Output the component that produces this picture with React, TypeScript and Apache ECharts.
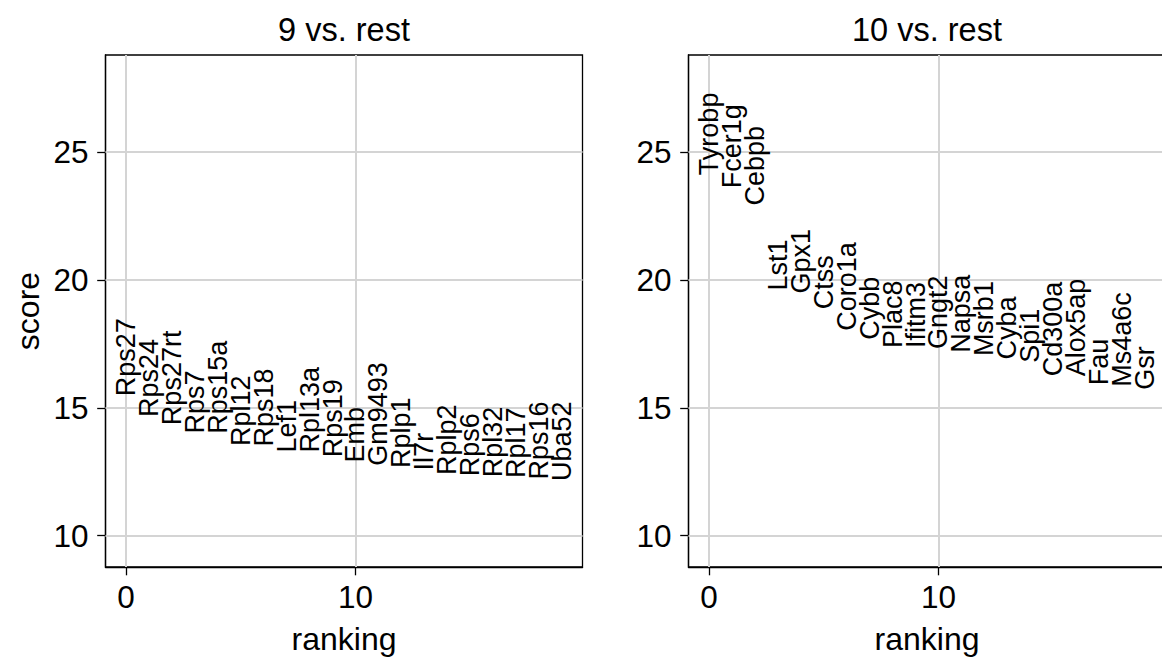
import React, { useEffect, useRef } from "react";
import * as echarts from "echarts";

const FONT = "'Liberation Sans', Arial, Helvetica, sans-serif";

const genes9 = [
  "Rps27", "Rps24", "Rps27rt", "Rps7", "Rps15a", "Rpl12", "Rps18", "Lef1", "Rpl13a", "Rps19",
  "Emb", "Gm9493", "Rplp1", "Il7r", "Rplp2", "Rps6", "Rpl32", "Rpl17", "Rps16", "Uba52",
];
const scores9 = [
  15.45, 14.64, 14.32, 13.99, 13.98, 13.5, 13.48, 13.25, 13.25, 13.06,
  12.86, 12.73, 12.64, 12.55, 12.37, 12.32, 12.28, 12.25, 12.19, 12.13,
];
const genes10 = [
  "Tyrobp", "Fcer1g", "Cebpb", "Lst1", "Gpx1", "Ctss", "Coro1a", "Cybb", "Plac8", "Ifitm3",
  "Gngt2", "Napsa", "Msrb1", "Cyba", "Spi1", "Cd300a", "Alox5ap", "Fau", "Ms4a6c", "Gsr",
];
const scores10 = [
  24.1, 23.59, 22.91, 19.59, 19.47, 18.85, 18.01, 17.66, 17.34, 17.34,
  17.3, 17.15, 17.02, 16.89, 16.76, 16.23, 16.23, 15.88, 15.82, 15.7,
];
const panelTitles = ["9 vs. rest", "10 vs. rest"];
const xTicks = [0, 10];
const yTicks = [10, 15, 20, 25];
const xRange = [-0.9, 19.9];
const yRange = [8.77, 28.8];

const GRID_LEFTS = [105.5, 688.5];
const GRID_W = 477;
const GRID_TOP = 55;
const GRID_H = 518.3;

export default function App() {
  const ref = useRef<HTMLDivElement>(null);
  useEffect(() => {
    if (!ref.current) return;
    const chart = echarts.init(ref.current, undefined, { renderer: "svg" });
    const panels = [
      { genes: genes9, scores: scores9 },
      { genes: genes10, scores: scores10 },
    ];
    const grids = GRID_LEFTS.map((l) => ({
      left: l,
      top: GRID_TOP,
      width: GRID_W,
      height: GRID_H,
      show: true,
      borderColor: "#000",
      borderWidth: 1.3,
      backgroundColor: "#fff",
      containLabel: false,
    }));
    const xAxes = GRID_LEFTS.map((_, i) => ({
      type: "value",
      gridIndex: i,
      min: xRange[0],
      max: xRange[1],
      name: "ranking",
      nameLocation: "middle",
      nameGap: 56,
      nameTextStyle: { fontSize: 32, fontFamily: FONT, color: "#000" },
      axisLine: { show: true, onZero: false, lineStyle: { color: "#000", width: 1.3 } },
      axisTick: { show: true, length: 8.3, customValues: xTicks, lineStyle: { color: "#000", width: 1.3 } },
      axisLabel: { show: true, customValues: xTicks, margin: 14, fontSize: 31.5, fontFamily: FONT, color: "#000" },
      splitLine: { show: false },
    }));
    const yAxes = GRID_LEFTS.map((_, i) => ({
      type: "value",
      gridIndex: i,
      min: yRange[0],
      max: yRange[1],
      name: i === 0 ? "score" : "",
      nameLocation: "middle",
      nameGap: 62,
      nameTextStyle: { fontSize: 32, fontFamily: FONT, color: "#000" },
      axisLine: { show: true, onZero: false, lineStyle: { color: "#000", width: 1.3 } },
      axisTick: { show: true, length: 8.3, customValues: yTicks, lineStyle: { color: "#000", width: 1.3 } },
      axisLabel: { show: true, customValues: yTicks, margin: 17, fontSize: 31.5, fontFamily: FONT, color: "#000" },
      splitLine: { show: false },
    }));
    const gridSeries = GRID_LEFTS.map((_, i) => ({
      type: "line",
      xAxisIndex: i,
      yAxisIndex: i,
      data: [],
      z: 1,
      silent: true,
      markLine: {
        silent: true,
        symbol: "none",
        label: { show: false },
        lineStyle: { color: "#d4d4d4", width: 2, type: "solid" },
        data: [
          ...xTicks.map((v) => ({ xAxis: v })),
          ...yTicks.map((v) => ({ yAxis: v })),
        ],
      },
    }));
    const labelSeries = panels.map((p, i) => ({
      type: "scatter",
      xAxisIndex: i,
      yAxisIndex: i,
      symbolSize: 1,
      z: 5,
      itemStyle: { color: "rgba(0,0,0,0)" },
      data: p.genes.map((g, k) => ({ name: g, value: [k, p.scores[k]] })),
      label: {
        show: true,
        formatter: (d: any) => d.name,
        position: "inside",
        rotate: 90,
        align: "left",
        verticalAlign: "middle",
        fontSize: 27,
        fontFamily: FONT,
        color: "#000",
        opacity: 1,
        textBorderWidth: 0,
      },
    }));
    chart.setOption({
      animation: false,
      backgroundColor: "#fff",
      grid: grids,
      xAxis: xAxes,
      yAxis: yAxes,
      series: [...gridSeries, ...labelSeries],
      graphic: panelTitles.map((t, i) => ({
        type: "text",
        x: GRID_LEFTS[i] + GRID_W / 2,
        y: 30,
        style: {
          text: t,
          fontSize: 32.5,
          fontFamily: FONT,
          fill: "#000",
          textAlign: "center",
          textVerticalAlign: "middle",
        },
      })),
    });
    return () => chart.dispose();
  }, []);
  return (
    <div
      ref={ref}
      style={{ position: "fixed", left: 0, top: 0, width: 1170, height: 660, background: "#fff" }}
    />
  );
}
